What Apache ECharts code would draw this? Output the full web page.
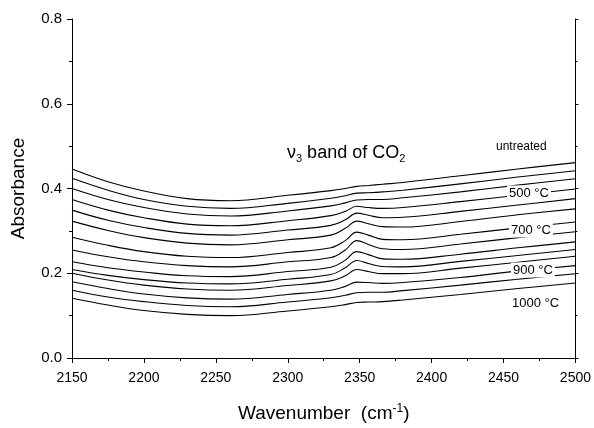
<!DOCTYPE html>
<html>
<head>
<meta charset="utf-8">
<script src="https://cdn.jsdelivr.net/npm/echarts@6/dist/echarts.min.js"></script>
<style>
  html, body { margin: 0; padding: 0; background: #fff; }
  #chart { width: 594px; height: 428px; }
</style>
</head>
<body>
<div id="chart"></div>
<script>
// wavenumbers (cm-1) where the spectra were read
var wavenumbers = [2150, 2175, 2200, 2230, 2260, 2300, 2330, 2340, 2348, 2356, 2366, 2380, 2420, 2460, 2500];

// absorbance, top (untreated) to bottom (1000 C)
var curve01 = [0.446, 0.416, 0.394, 0.376, 0.371, 0.384, 0.395, 0.400, 0.405, 0.407, 0.410, 0.414, 0.430, 0.446, 0.461]; // untreated
var curve02 = [0.424, 0.396, 0.374, 0.358, 0.353, 0.365, 0.377, 0.383, 0.389, 0.390, 0.392, 0.396, 0.411, 0.427, 0.442];
var curve03 = [0.400, 0.374, 0.355, 0.340, 0.335, 0.347, 0.359, 0.366, 0.373, 0.374, 0.374, 0.378, 0.392, 0.408, 0.423];
var curve04 = [0.374, 0.349, 0.331, 0.316, 0.312, 0.324, 0.336, 0.346, 0.358, 0.355, 0.353, 0.355, 0.369, 0.384, 0.399]; // 500 C
var curve05 = [0.349, 0.325, 0.308, 0.294, 0.290, 0.302, 0.313, 0.326, 0.342, 0.337, 0.331, 0.332, 0.346, 0.361, 0.376];
var curve06 = [0.323, 0.301, 0.284, 0.271, 0.267, 0.279, 0.290, 0.306, 0.323, 0.317, 0.310, 0.309, 0.322, 0.338, 0.352];
var curve07 = [0.285, 0.266, 0.251, 0.240, 0.237, 0.249, 0.260, 0.277, 0.297, 0.290, 0.280, 0.279, 0.292, 0.307, 0.321]; // 700 C
var curve08 = [0.255, 0.239, 0.227, 0.218, 0.215, 0.227, 0.237, 0.255, 0.277, 0.268, 0.258, 0.256, 0.269, 0.284, 0.298];
var curve09 = [0.227, 0.213, 0.203, 0.194, 0.192, 0.204, 0.214, 0.231, 0.251, 0.244, 0.234, 0.233, 0.245, 0.260, 0.274];
var curve10 = [0.209, 0.195, 0.185, 0.177, 0.175, 0.186, 0.197, 0.213, 0.230, 0.223, 0.216, 0.215, 0.228, 0.242, 0.256];
var curve11 = [0.200, 0.184, 0.172, 0.163, 0.160, 0.171, 0.182, 0.194, 0.209, 0.204, 0.199, 0.199, 0.212, 0.226, 0.240];
var curve12 = [0.180, 0.164, 0.151, 0.142, 0.139, 0.150, 0.160, 0.169, 0.179, 0.178, 0.176, 0.178, 0.190, 0.205, 0.218]; // 900 C
var curve13 = [0.160, 0.144, 0.133, 0.124, 0.121, 0.132, 0.142, 0.148, 0.154, 0.155, 0.155, 0.159, 0.172, 0.186, 0.199];
var curve14 = [0.141, 0.125, 0.112, 0.103, 0.100, 0.111, 0.121, 0.126, 0.131, 0.132, 0.133, 0.137, 0.150, 0.164, 0.177]; // 1000 C

var curves = [curve01, curve02, curve03, curve04, curve05, curve06, curve07,
  curve08, curve09, curve10, curve11, curve12, curve13, curve14];

var xTicks = { min: 2150, max: 2500, interval: 50 };
var yTicks = { min: 0, max: 0.8, interval: 0.2 };

var fontName = 'Liberation Sans, Arial, sans-serif';

function makeSeries(values) {
  return {
    type: 'line',
    data: wavenumbers.map(function (w, i) { return [w, values[i]]; }),
    smooth: 0.4,
    showSymbol: false,
    silent: true,
    lineStyle: { color: '#000', width: 1.1 },
    xAxisIndex: 0,
    yAxisIndex: 0
  };
}

function labelText(x, y, text, size) {
  return {
    type: 'text',
    x: x,
    y: y,
    z: 100,
    style: {
      text: text,
      fill: '#000',
      font: size + 'px ' + fontName,
      backgroundColor: '#fff',
      padding: [1, 2],
      verticalAlign: 'middle'
    }
  };
}

var myChart = echarts.init(document.getElementById('chart'));
var axisLine = { show: true, lineStyle: { color: '#000', width: 1 } };

var option = {
  animation: false,
  backgroundColor: '#fff',
  grid: { left: 72, right: 17, top: 19, bottom: 70 },
  xAxis: [{
    type: 'value',
    min: xTicks.min,
    max: xTicks.max,
    interval: xTicks.interval,
    axisLine: axisLine,
    axisTick: { show: true, inside: false, length: 5, lineStyle: { color: '#000' } },
    minorTick: { show: true, splitNumber: 2, length: 3, lineStyle: { color: '#000' } },
    splitLine: { show: false },
    axisLabel: {
      color: '#000', fontSize: 14, fontFamily: fontName, margin: 13,
      formatter: function (v) { return String(v); }
    },
    name: 'Wavenumber  (cm{sup|-1})',
    nameLocation: 'middle',
    nameGap: 45,
    nameTextStyle: {
      color: '#000', fontSize: 19, fontFamily: fontName,
      rich: { sup: { fontSize: 12, verticalAlign: 'top', padding: [0, 0, 9, 0], fontFamily: fontName } }
    }
  }, {
    type: 'value',
    position: 'top',
    min: xTicks.min,
    max: xTicks.max,
    interval: xTicks.interval,
    axisLine: axisLine,
    axisTick: { show: false },
    axisLabel: { show: false },
    splitLine: { show: false }
  }],
  yAxis: [{
    type: 'value',
    min: yTicks.min,
    max: yTicks.max,
    interval: yTicks.interval,
    axisLine: axisLine,
    axisTick: { show: true, inside: false, length: 5, lineStyle: { color: '#000' } },
    minorTick: { show: true, splitNumber: 2, length: 3, lineStyle: { color: '#000' } },
    splitLine: { show: false },
    axisLabel: {
      color: '#000', fontSize: 15, fontFamily: fontName, margin: 10,
      formatter: function (v) { return v.toFixed(1); }
    },
    name: 'Absorbance',
    nameLocation: 'middle',
    nameGap: 44,
    nameTextStyle: { color: '#000', fontSize: 19, fontFamily: fontName }
  }, {
    type: 'value',
    position: 'right',
    min: yTicks.min,
    max: yTicks.max,
    interval: yTicks.interval,
    axisLine: axisLine,
    axisTick: { show: true, inside: false, length: 3, lineStyle: { color: '#000' } },
    minorTick: { show: true, splitNumber: 2, length: 2, lineStyle: { color: '#000' } },
    axisLabel: { show: false },
    splitLine: { show: false }
  }],
  series: curves.map(makeSeries),
  graphic: [
    {
      type: 'text',
      x: 287,
      y: 153,
      z: 100,
      style: {
        text: '{b|\u03bd}{s|3}{b| band of CO}{s|2}',
        fill: '#000',
        verticalAlign: 'middle',
        rich: {
          b: { fontSize: 18, fontFamily: fontName, fill: '#000' },
          s: { fontSize: 11, fontFamily: fontName, fill: '#000', verticalAlign: 'bottom', padding: [11, 0, 0, 0] }
        }
      }
    },
    labelText(494, 147, 'untreated', 12),
    labelText(507, 193, '500 \u00b0C', 13),
    labelText(509, 230, '700 \u00b0C', 13),
    labelText(511, 270, '900 \u00b0C', 13),
    labelText(510, 303, '1000 \u00b0C', 13)
  ]
};

myChart.setOption(option, true);
window.addEventListener('resize', function () {
  myChart.resize();
});
</script>
</body>
</html>
